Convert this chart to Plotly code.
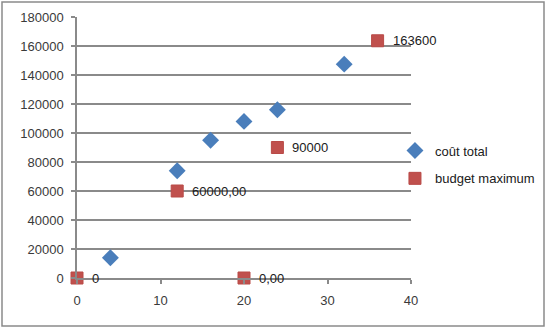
import plotly.graph_objects as go

# Series values
cout_x = [4, 12, 16, 20, 24, 32]
cout_y = [14000, 74000, 95000, 108000, 116000, 147500]

budget_x = [0, 12, 20, 24, 36]
budget_y = [0, 60000, 0, 90000, 163600]
budget_labels = ["0", "60000,00", "0,00", "90000", "163600"]

x_ticks = [0, 10, 20, 30, 40]
y_ticks = [0, 20000, 40000, 60000, 80000, 100000, 120000, 140000, 160000, 180000]
y_ticktext = [str(v) for v in y_ticks]

FONT = "Liberation Sans"
TXT = "#3a3a3a"
GRID = "#8a8a8a"

fig = go.Figure()

fig.add_trace(go.Scatter(
    x=cout_x, y=cout_y, mode="markers", name="coût total",
    marker=dict(symbol="diamond", size=13, color="#4A7EBB"),
    cliponaxis=False, legendgroup="a",
))

fig.add_trace(go.Scatter(
    x=budget_x, y=budget_y, mode="markers", name="budget maximum",
    marker=dict(symbol="square", size=12, color="#C0504D",
                line=dict(color="#B94A47", width=1)),
    cliponaxis=False, legendgroup="b",
))

# value labels beside the budget markers
annotations = [
    dict(x=bx, y=by, xref="x", yref="y", text=lab, showarrow=False,
         xanchor="left", yanchor="middle", xshift=13,
         font=dict(family=FONT, size=13, color="#202020"))
    for bx, by, lab in zip(budget_x, budget_y, budget_labels)
]

fig.update_layout(
    width=546, height=329,
    margin=dict(l=77, r=135, t=17, b=51, autoexpand=False),
    paper_bgcolor="white", plot_bgcolor="white",
    font=dict(family=FONT, size=13, color=TXT),
    showlegend=True,
    annotations=annotations,
    legend=dict(
        x=0.952, xanchor="left", y=0.546, yanchor="top",
        bgcolor="rgba(0,0,0,0)", tracegroupgap=8,
        font=dict(family=FONT, size=13, color="#202020"),
        itemwidth=30,
    ),
    xaxis=dict(
        range=[0, 40], tickvals=x_ticks, showgrid=False, zeroline=False,
        showline=True, linecolor=GRID, linewidth=1.5,
        ticks="outside", ticklen=4, tickcolor=GRID, tickwidth=1.5,
        ticklabelstandoff=6,
    ),
    yaxis=dict(
        range=[0, 180000], tickvals=y_ticks, ticktext=y_ticktext,
        showgrid=True, gridcolor=GRID, gridwidth=1.5, zeroline=False,
        showline=True, linecolor=GRID, linewidth=1.5,
        ticks="outside", ticklen=4, tickcolor=GRID, tickwidth=1.5,
        ticklabelstandoff=5,
    ),
    shapes=[dict(
        type="rect", xref="paper", yref="paper",
        x0=(2 - 77) / 334, x1=(544 - 77) / 334,
        y0=(278 - 326) / 261, y1=(278 - 2) / 261,
        line=dict(color="#8a8a8a", width=1.5), layer="below",
    )],
)

fig.write_html("out.html")
